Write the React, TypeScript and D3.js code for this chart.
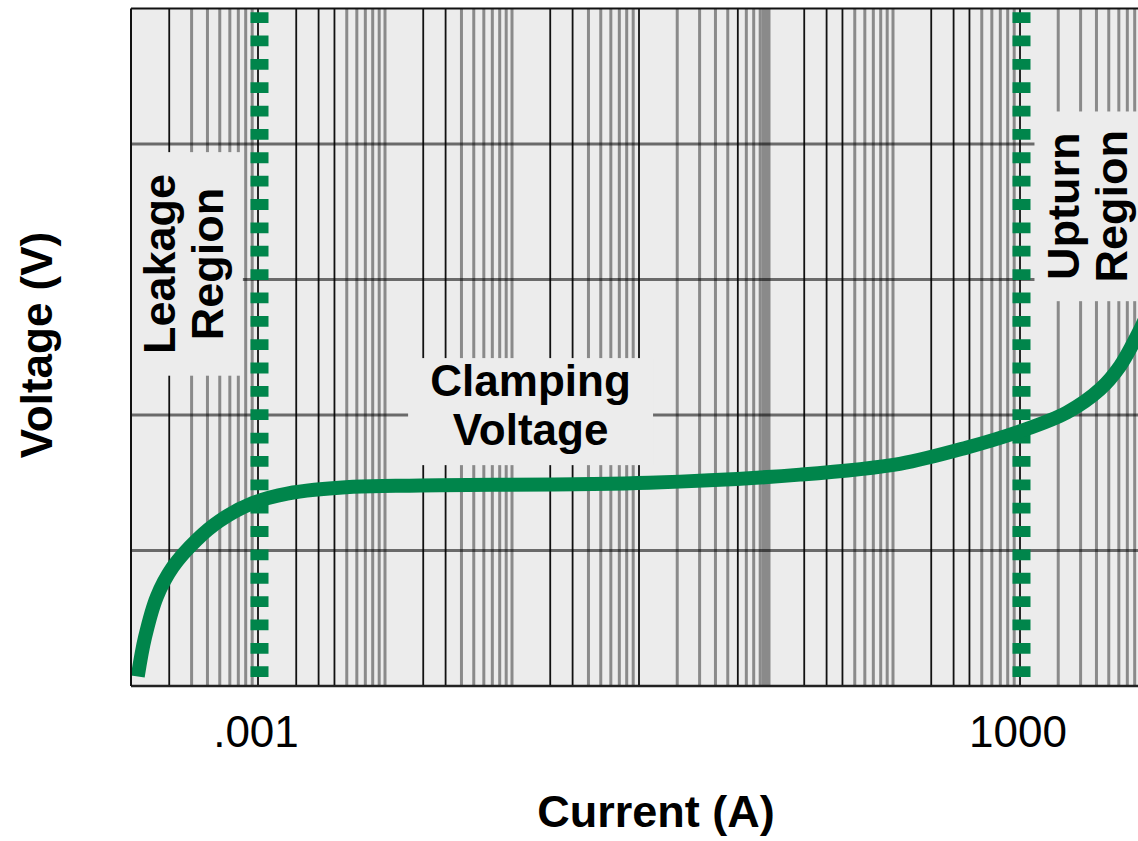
import * as d3 from "d3";

// V-I curve of the clamping device
const currentA = [
  1.13e-4, 1.29e-4, 1.6e-4, 2.14e-4, 3.3e-4, 5e-4, 9.1e-4, 1.7e-3, 5.6e-3, 0.019,
  1.2, 18.5, 113, 383, 1000, 2350, 4270, 6120, 8500, 10000,
];
const voltageV = [
  0.07, 0.36, 0.66, 0.88, 1.08, 1.22, 1.35, 1.42, 1.47, 1.48,
  1.5, 1.56, 1.64, 1.76, 1.88, 2.02, 2.19, 2.36, 2.6, 2.74,
];

const decadeExponents = [-4, -3, -2, -1, 0, 1, 2, 3];
const mantissas = [1, 2, 3, 4, 5, 6, 7, 8, 9];
const darkGridValues = [
  1e-4, 2e-4, 1e-3, 2e-3, 3e-3, 4e-3, 2e-2, 3e-2, 2e-1, 3e-1, 1, 6, 20, 30, 40, 200, 300, 400, 1000,
];
const wideGridValues = [10];
const voltageGrid = [0, 1, 2, 3, 4, 5];
const regionBounds = [0.001, 1000];
const tickValues = [0.001, 1000];
const tickLabels = [".001", "1000"];

const leakageLines = ["Leakage", "Region"];
const clampingLines = ["Clamping", "Voltage"];
const upturnLines = ["Upturn", "Region"];

const W = 1138;
const H = 841;
const FONT = "'Liberation Sans', Arial, Helvetica, sans-serif";
const GREEN = "#00854b";
const BG = "#ececec";

const x = d3.scaleLog().domain([1e-4, 1e4]).range([131, 131 + 8 * 127]);
const y = d3.scaleLinear().domain([0, 5]).range([686, 8.5]);

const sameValue = (a: number, b: number) => Math.abs(Math.log10(a) - Math.log10(b)) < 1e-6;

export default function App() {
  const gridValues = decadeExponents.flatMap((e) => mantissas.map((m) => m * Math.pow(10, e)));
  const grayLines = gridValues.filter((v) => !darkGridValues.some((d) => sameValue(d, v)));
  const points = currentA.map((c, i) => [c, voltageV[i]] as [number, number]);
  const line = d3
    .line<[number, number]>()
    .x((d) => x(d[0]))
    .y((d) => y(d[1]))
    .curve(d3.curveCatmullRom.alpha(0.5));

  const [x0, x1] = x.range();
  const [y0, y1] = y.range();

  // label boxes, in data units
  const leak = { c: [1e-4, 7.6e-4], v: [2.29, 3.94] };
  const clamp = { c: [0.0152, 1.29], v: [1.63, 2.42] };
  const up = { c: [1300, 1e4], v: [2.84, 4.24] };
  const box = (b: { c: number[]; v: number[] }) => ({
    x: x(b.c[0]),
    y: y(b.v[1]),
    w: x(b.c[1]) - x(b.c[0]),
    h: y(b.v[0]) - y(b.v[1]),
  });
  const lb = box(leak);
  const cb = box(clamp);
  const ub = box(up);

  const rotatedLabel = (b: { x: number; y: number; w: number; h: number }, lines: string[]) => {
    const cx = b.x + b.w / 2;
    const cy = b.y + b.h / 2;
    return lines.map((t, i) => {
      const bx = cx + (i - 0.5) * 48 + 12;
      return (
        <text
          key={t + i}
          x={bx}
          y={cy}
          transform={`rotate(-90 ${bx} ${cy})`}
          textAnchor="middle"
          fontFamily={FONT}
          fontWeight="bold"
          fontSize={45}
        >
          {t}
        </text>
      );
    });
  };

  return (
    <svg width={W} height={H} style={{ position: "absolute", left: 0, top: 0, background: "#fff" }}>
      <defs>
        <clipPath id="plot">
          <rect x={x0} y={y1} width={x1 - x0} height={y0 - y1} />
        </clipPath>
      </defs>
      <rect x={x0} y={y1} width={x1 - x0} height={y0 - y1} fill={BG} />

      <g clipPath="url(#plot)">
        {grayLines.map((v, i) => (
          <line
            key={"g" + i}
            x1={x(v)}
            x2={x(v)}
            y1={y1}
            y2={y0}
            stroke="#8a8a8a"
            strokeWidth={wideGridValues.some((w) => sameValue(w, v)) ? 9 : 3}
          />
        ))}
        {darkGridValues.map((v, i) => (
          <line key={"d" + i} x1={x(v)} x2={x(v)} y1={y1} y2={y0} stroke="#111" strokeWidth={1.8} />
        ))}
        {voltageGrid.slice(1, -1).map((v) => (
          <line key={"h" + v} x1={x0} x2={x1} y1={y(v)} y2={y(v)} stroke="#000" strokeOpacity={0.55} strokeWidth={3} />
        ))}

        <rect x={lb.x} y={lb.y} width={lb.w} height={lb.h} fill={BG} />
        <rect x={cb.x} y={cb.y} width={cb.w} height={cb.h} fill={BG} />
        <rect x={ub.x} y={ub.y} width={ub.w} height={ub.h} fill={BG} />

        {regionBounds.map((v) => (
          <line
            key={"r" + v}
            x1={x(v) + 1.5}
            x2={x(v) + 1.5}
            y1={y1}
            y2={y0}
            stroke={GREEN}
            strokeWidth={18}
            strokeDasharray="10.8 12.56"
            strokeDashoffset={19.66}
          />
        ))}

        <path d={line(points) ?? ""} fill="none" stroke={GREEN} strokeWidth={14} />
      </g>

      {/* frame */}
      <line x1={x0} x2={x1} y1={y1} y2={y1} stroke="#111" strokeWidth={2} />
      <line x1={x0} x2={x1} y1={y0} y2={y0} stroke="#222" strokeWidth={2.5} />
      <line x1={x0} x2={x0} y1={y1} y2={y0} stroke="#111" strokeWidth={2} />

      {rotatedLabel(lb, leakageLines)}
      {rotatedLabel(ub, upturnLines)}
      {clampingLines.map((t, i) => (
        <text
          key={t}
          x={cb.x + cb.w / 2}
          y={cb.y + cb.h / 2 + (i - 0.5) * 49 + 9}
          textAnchor="middle"
          fontFamily={FONT}
          fontWeight="bold"
          fontSize={44}
        >
          {t}
        </text>
      ))}

      {tickValues.map((v, i) => (
        <text key={"t" + v} x={x(v) - 2} y={747} textAnchor="middle" fontFamily={FONT} fontSize={44}>
          {tickLabels[i]}
        </text>
      ))}

      <text x={656} y={827} textAnchor="middle" fontFamily={FONT} fontWeight="bold" fontSize={45}>
        Current (A)
      </text>
      <text
        x={52}
        y={345}
        transform="rotate(-90 52 345)"
        textAnchor="middle"
        fontFamily={FONT}
        fontWeight="bold"
        fontSize={44}
      >
        Voltage (V)
      </text>
    </svg>
  );
}
